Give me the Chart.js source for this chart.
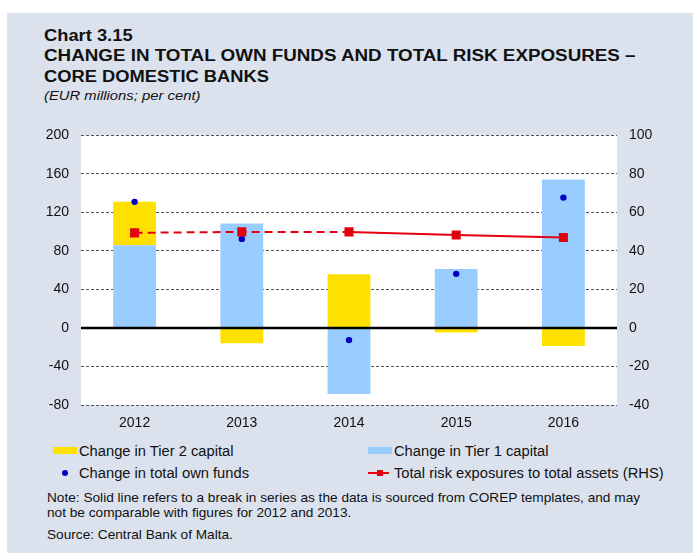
<!DOCTYPE html>
<html>
<head>
<meta charset="utf-8">
<script src="https://cdn.jsdelivr.net/npm/chart.js@4"></script>
<style>
  body { margin: 0; width: 693px; height: 553px; background: #fff; position: relative; overflow: hidden;
         font-family: Arial, "Liberation Sans", sans-serif; color: #111; }
  #panel { position: absolute; left: 7px; top: 13px; right: 0; bottom: 0; background: #dbe2ee; }
  .txt { position: absolute; white-space: nowrap; transform-origin: 0 0; }
  .title { font-weight: bold; font-size: 16px; line-height: 16px; left: 44px; transform: scaleX(1.145); }
  .sub { font-style: italic; font-size: 13px; line-height: 13px; left: 44px; transform: scaleX(1.14); }
  .leg { font-size: 14px; line-height: 14px; transform: scaleX(1.05); }
  .note { font-size: 13px; line-height: 13px; left: 47px; transform: scaleX(1.05); }
  .swatch { position: absolute; width: 24px; height: 7px; }
  #wrap { position: absolute; left: 0; top: 115px; width: 693px; height: 320px; }
</style>
</head>
<body>
<div id="panel"></div>
<div class="txt title" style="top:28px">Chart 3.15</div>
<div class="txt title" style="top:48px;transform:scaleX(1.175)">CHANGE IN TOTAL OWN FUNDS AND TOTAL RISK EXPOSURES –</div>
<div class="txt title" style="top:69px">CORE DOMESTIC BANKS</div>
<div class="txt sub" style="top:89px">(EUR millions; per cent)</div>

<div id="wrap"><canvas id="ownFundsChart"></canvas></div>

<!-- legend -->
<div class="swatch" style="left:53px;top:447px;background:#ffe100"></div>
<div class="txt leg" style="left:79px;top:444px">Change in Tier 2 capital</div>
<div class="swatch" style="left:368px;top:447px;background:#99ccff"></div>
<div class="txt leg" style="left:394px;top:444px">Change in Tier 1 capital</div>
<div style="position:absolute;left:62px;top:470px;width:6px;height:6px;border-radius:50%;background:#0000c8"></div>
<div class="txt leg" style="left:79px;top:466px">Change in total own funds</div>
<div style="position:absolute;left:368px;top:472px;width:21px;height:2px;background:#e3000f"></div>
<div style="position:absolute;left:377px;top:470px;width:6px;height:6px;background:#e3000f"></div>
<div class="txt leg" style="left:394px;top:466px">Total risk exposures to total assets (RHS)</div>

<div class="txt note" style="top:491px">Note: Solid line refers to a break in series as the data is sourced from COREP templates, and may</div>
<div class="txt note" style="top:506px">not be comparable with figures for 2012 and 2013.</div>
<div class="txt note" style="top:528px">Source: Central Bank of Malta.</div>

<script>
const years = ['2012', '2013', '2014', '2015', '2016'];
const tier1Change = [86, 108.6, -68.5, 61.2, 154.2];
const tier2Change = [45, -15.9, 55.7, -4.8, -18.7];
const ownFundsChange = [131, 92.5, -12.6, 56.2, 135.4];
const riskExposureRatio = [49.4, 49.9, 49.9, 48.3, 47.0];

const leftTicks = { min: -80, max: 200, step: 40 };
const rightTicks = { min: -40, max: 100, step: 20 };

const font = { family: 'Arial, "Liberation Sans", sans-serif', size: 14 };

// white plot area behind the grid
const plotBackground = {
    id: 'plotBackground',
    beforeDraw(chart) {
        const { ctx, chartArea: a } = chart;
        ctx.save();
        ctx.fillStyle = '#ffffff';
        ctx.fillRect(a.left, a.top, a.right - a.left, a.bottom - a.top);
        ctx.restore();
    }
};

// solid zero line drawn over the bars
const zeroLine = {
    id: 'zeroLine',
    afterDatasetsDraw(chart) {
        const { ctx, chartArea: a } = chart;
        const y = Math.round(chart.scales.y.getPixelForValue(0));
        ctx.save();
        ctx.strokeStyle = '#000';
        ctx.lineWidth = 2.5;
        ctx.beginPath();
        ctx.moveTo(a.left, y);
        ctx.lineTo(a.right, y);
        ctx.stroke();
        ctx.restore();
    }
};

new Chart(document.getElementById('ownFundsChart'), {
    data: {
        labels: years,
        datasets: [
            {
                type: 'line',
                label: 'Total risk exposures to total assets (RHS)',
                data: riskExposureRatio,
                yAxisID: 'y1',
                borderColor: '#e3000f',
                backgroundColor: '#e3000f',
                borderWidth: 2,
                pointStyle: 'rect',
                pointRadius: 5,
                pointHoverRadius: 5,
                // dashed until the break in series
                segment: {
                    borderDash: ctx => ctx.p0DataIndex < 2 ? [8, 5] : undefined
                },
                order: 0
            },
            {
                type: 'line',
                label: 'Change in total own funds',
                data: ownFundsChange,
                showLine: false,
                pointRadius: 3.2,
                pointBackgroundColor: '#0000c8',
                pointBorderWidth: 0,
                order: 1
            },
            {
                type: 'bar',
                label: 'Change in Tier 1 capital',
                data: tier1Change,
                backgroundColor: '#99ccff',
                borderWidth: 0,
                stack: 'funds',
                order: 2
            },
            {
                type: 'bar',
                label: 'Change in Tier 2 capital',
                data: tier2Change,
                backgroundColor: '#ffe100',
                borderWidth: 0,
                stack: 'funds',
                order: 3
            }
        ]
    },
    options: {
        responsive: true,
        maintainAspectRatio: false,
        animation: false,
        layout: { padding: 0 },
        datasets: { bar: { barPercentage: 0.4, categoryPercentage: 1 } },
        plugins: { legend: { display: false }, tooltip: { enabled: false } },
        scales: {
            x: {
                stacked: true,
                grid: { display: false, drawTicks: false },
                border: { display: false },
                ticks: { font, color: '#111', padding: 10 },
                afterFit(scale) { scale.height = 30; }
            },
            y: {
                stacked: true,
                position: 'left',
                min: leftTicks.min,
                max: leftTicks.max,
                ticks: { stepSize: leftTicks.step, font, color: '#111', padding: 12 },
                grid: {
                    drawTicks: false,
                    color: ctx => ctx.tick && ctx.tick.value === 0 ? 'rgba(0,0,0,0)' : '#555',
                    lineWidth: 1
                },
                border: { display: false, dash: [3, 2] },
                afterFit(scale) { scale.width = 81; }
            },
            y1: {
                position: 'right',
                min: rightTicks.min,
                max: rightTicks.max,
                ticks: { stepSize: rightTicks.step, font, color: '#111', padding: 12 },
                grid: { display: false, drawTicks: false },
                border: { display: false },
                afterFit(scale) { scale.width = 76; }
            }
        }
    },
    plugins: [plotBackground, zeroLine]
});
</script>
</body>
</html>
